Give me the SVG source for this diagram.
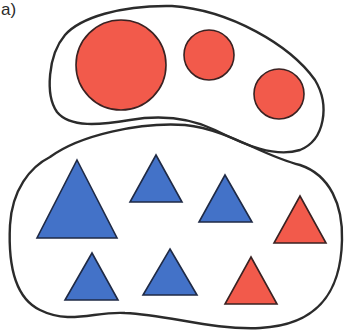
<svg xmlns="http://www.w3.org/2000/svg" width="344" height="331" viewBox="0 0 344 331">
<style>
.blob{fill:none;stroke:#2b2b2b;stroke-width:2.4;stroke-linejoin:round}
.red{fill:#f25a4b;stroke:#3a2222;stroke-width:1.6}
.blue{fill:#4372c8;stroke:#1f2a45;stroke-width:1.6;stroke-linejoin:miter}
.redt{fill:#f25a4b;stroke:#3a2222;stroke-width:1.6}
.lbl{font-family:"Liberation Sans",Arial,sans-serif;font-size:17px;fill:#2b2b2b}
</style>
<rect width="344" height="331" fill="#ffffff"/>
<text class="lbl" x="1" y="15">a)</text>
<g id="set-circles">
<path class="blob" d="M172,6 C230,10 290,45 315,80 C330,105 325,140 300,150 C275,158 245,145 215,130 C190,118 160,115 130,120 C100,125 70,128 57,112 C45,95 48,55 65,35 C80,18 120,5 172,6 Z"/>
</g>
<g id="set-triangles">
<path class="blob" d="M50,157 C80,135 140,122 185,125 C230,130 260,155 300,165 C330,175 343,205 342,240 C341,290 320,325 260,328 C210,330 170,315 125,313 C95,311 70,325 40,310 C15,298 8,265 10,225 C12,190 30,167 50,157 Z"/>
</g>
<g id="circle-big"><circle class="red" cx="121" cy="65" r="45"/></g>
<g id="circle-mid"><circle class="red" cx="209" cy="55" r="25"/></g>
<g id="circle-right"><circle class="red" cx="279" cy="94" r="25"/></g>
<g id="tri-blue-big"><polygon class="blue" points="77,160 117,238 37,238"/></g>
<g id="tri-blue-2"><polygon class="blue" points="156,155 182,202 130,202"/></g>
<g id="tri-blue-3"><polygon class="blue" points="225,175 252,222 199,222"/></g>
<g id="tri-red-1"><polygon class="redt" points="300,196 326,243 274,243"/></g>
<g id="tri-blue-4"><polygon class="blue" points="92,253 118,300 65,300"/></g>
<g id="tri-blue-5"><polygon class="blue" points="170,249 197,295 143,295"/></g>
<g id="tri-red-2"><polygon class="redt" points="251,257 277,304 225,304"/></g>
<g id="connectors"/>
</svg>
